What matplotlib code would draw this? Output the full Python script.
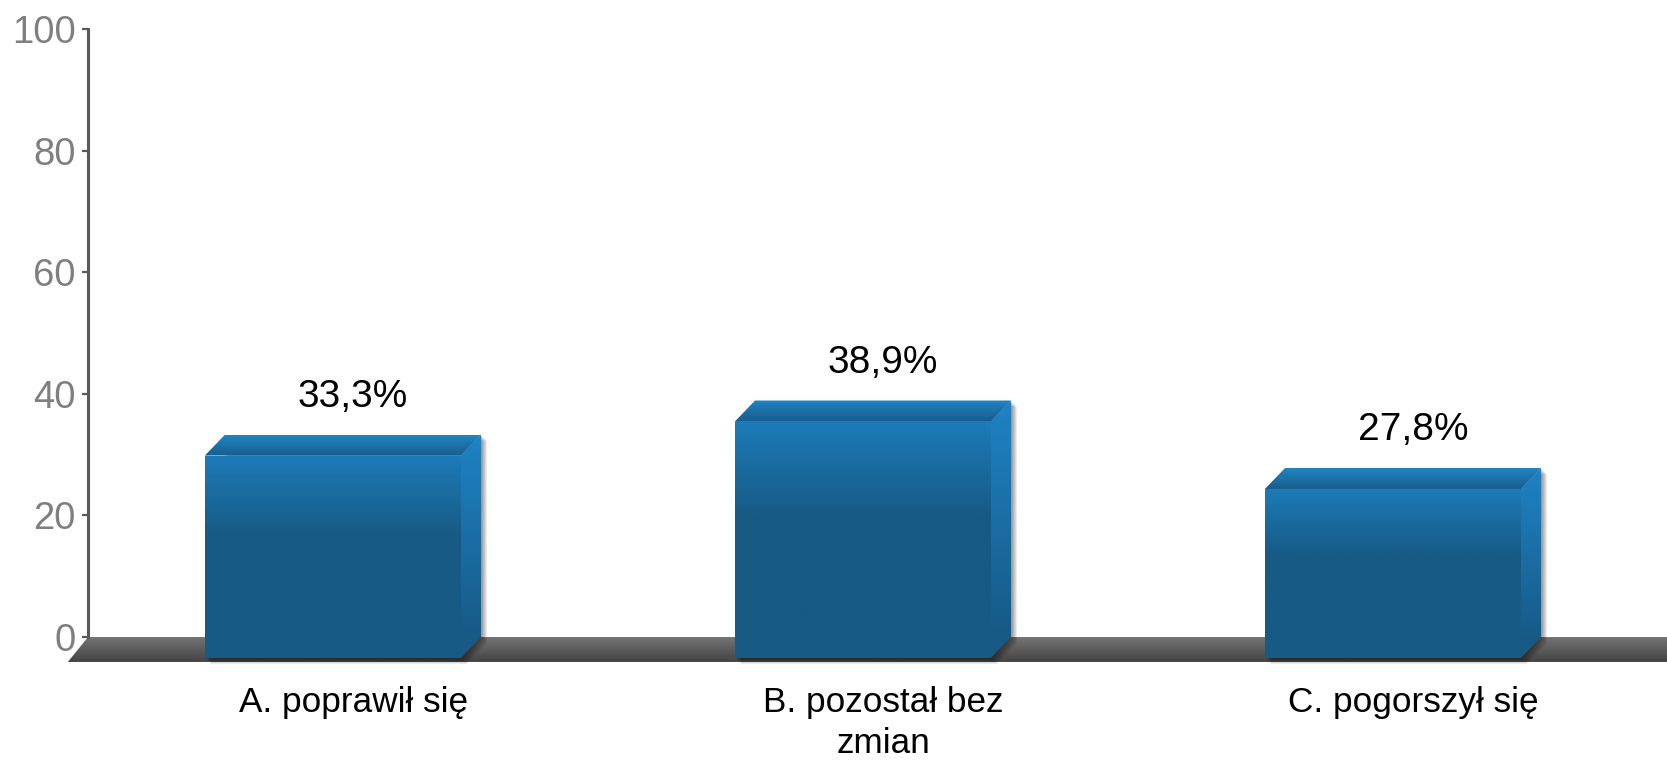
import numpy as np
import matplotlib
matplotlib.use('Agg')
import matplotlib.pyplot as plt
import matplotlib.colors as mcolors
from matplotlib.patches import Polygon

plt.rcParams['font.family'] = ['Liberation Sans', 'DejaVu Sans']

# data
categories = ['A. poprawił się', 'B. pozostał bez\nzmian', 'C. pogorszył się']
values = [33.3, 38.9, 27.8]
value_labels = ['33,3%', '38,9%', '27,8%']
yticks = [0, 20, 40, 60, 80, 100]

# 3d look (data units)
BAR_W = 0.483
DX = 0.038   # depth offset in x
DY = 3.45    # depth offset in y
FLOOR_DY = 4.1


def grad_poly(ax, verts, top, bottom, frac=1.0, z=2):
    """Polygon filled with a vertical gradient (top colour -> bottom colour)."""
    poly = Polygon(verts, closed=True, facecolor='none', edgecolor='none', zorder=z)
    ax.add_patch(poly)
    xs = [p[0] for p in verts]
    ys = [p[1] for p in verts]
    t = np.clip(np.linspace(0, 1, 256) / frac, 0, 1)
    c0 = np.array(mcolors.to_rgb(top))
    c1 = np.array(mcolors.to_rgb(bottom))
    img = (c0[None, :] * (1 - t[:, None]) + c1[None, :] * t[:, None])[:, None, :]
    im = ax.imshow(img, extent=(min(xs), max(xs), min(ys), max(ys)), origin='upper',
                   aspect='auto', interpolation='bilinear', zorder=z)
    im.set_clip_path(poly)


fig = plt.figure(figsize=(16.67, 7.6), dpi=100)
ax = fig.add_axes([0.0369, 0.1138, 0.9697, 0.848])

# floor
grad_poly(ax, [(-0.5, 0), (3.0, 0), (3.0 - DX, -FLOOR_DY), (-0.5 - DX, -FLOOR_DY)],
          '#747474', '#444444', z=1)

for i, v in enumerate(values):
    x0, x1 = i - BAR_W / 2, i + BAR_W / 2
    # soft shadow
    px_x, px_y = 1 / 530, 1 / 6.08
    for k in range(1, 7):
        sx, sy = k * px_x, k * px_y
        shadow = [(x0 - DX + sx, -DY - sy), (x1 - DX + sx, -DY - sy), (x1 + sx, -sy),
                  (x1 + sx, v - sy), (x0 + sx, v - sy)]
        ax.add_patch(Polygon(shadow, closed=True, facecolor='black', edgecolor='none',
                             alpha=0.08, zorder=1.5))
    # front face
    grad_poly(ax, [(x0 - DX, -DY), (x1 - DX, -DY), (x1 - DX, v - DY), (x0 - DX, v - DY)],
              '#1d7bb8', '#175a84', frac=0.4, z=3)
    # top face
    grad_poly(ax, [(x0 - DX, v - DY), (x1 - DX, v - DY), (x1, v), (x0, v)],
              '#2184c4', '#195d8c', z=3)
    # side face
    grad_poly(ax, [(x1 - DX, -DY), (x1, 0), (x1, v), (x1 - DX, v - DY)],
              '#1e83c5', '#175a86', frac=0.9, z=3)
    ax.annotate(value_labels[i], (i, v), xytext=(0, 20), textcoords='offset points',
                ha='center', va='baseline', fontsize=28, color='black', zorder=5)

ax.set_xlim(-0.55, 2.5)
ax.set_ylim(-6, 100)

for s in ['top', 'right', 'bottom']:
    ax.spines[s].set_visible(False)
ax.spines['left'].set_position(('data', -0.5))
ax.spines['left'].set_bounds(0, 100)
ax.spines['left'].set_color('#5a5a5a')
ax.spines['left'].set_linewidth(2.2)
ax.spines['left'].set_zorder(4)

ax.set_yticks(yticks)
ax.set_yticklabels([str(t) for t in yticks])
ax.tick_params(axis='y', length=4, width=1.6, color='#5a5a5a', labelcolor='#7f7f7f',
               labelsize=27.5, pad=5)
ax.set_xticks(range(len(categories)))
ax.set_xticklabels(categories, fontsize=25.3, color='black', linespacing=1.32)
ax.tick_params(axis='x', length=0, pad=9)

fig.savefig('out.png', dpi=100)
